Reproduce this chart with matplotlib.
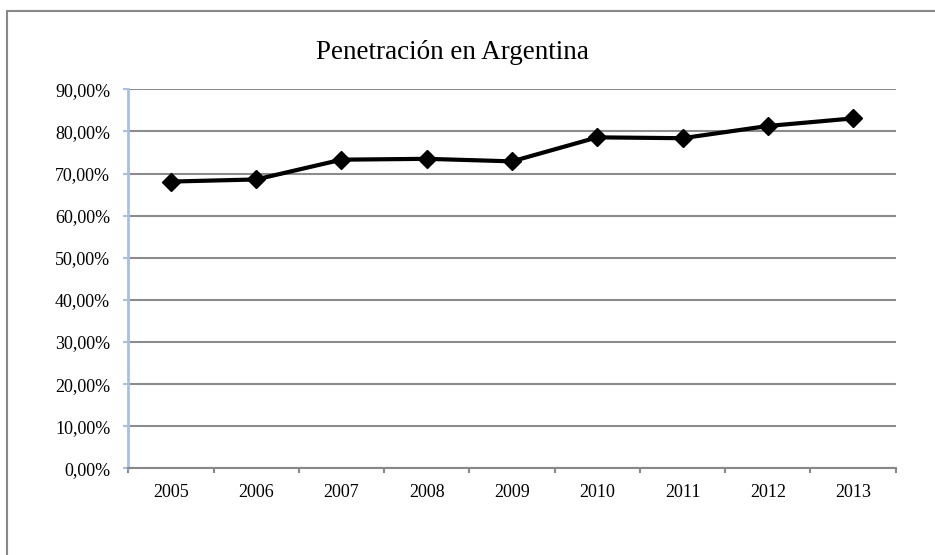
import matplotlib
matplotlib.use('Agg')
from matplotlib import pyplot as plt
from matplotlib.patches import Rectangle
from matplotlib.ticker import FixedLocator, FuncFormatter
import numpy as np

# penetración por año (%)
years = ['2005', '2006', '2007', '2008', '2009', '2010', '2011', '2012', '2013']
penetracion = [68.1, 68.6, 73.3, 73.5, 72.9, 78.6, 78.4, 81.3, 83.1]
y_ticks = [0, 10, 20, 30, 40, 50, 60, 70, 80, 90]

plt.rcParams['font.family'] = ['Liberation Serif', 'DejaVu Serif']

fig = plt.figure(figsize=(9.35, 5.55), dpi=100)
ax = fig.add_axes([0.1372, 0.1562, 0.8208, 0.6828])

# marco gris del gráfico
fig.patches.append(Rectangle((6.5 / 935, -0.1), 1.2, 1 + 0.1 - 10.5 / 555,
                             transform=fig.transFigure, fill=False,
                             edgecolor='#888888', linewidth=1.5, clip_on=False))

x = np.arange(len(years))
ax.plot(x, penetracion, color='black', linewidth=3, marker='D',
        markersize=9.5, markerfacecolor='black', markeredgecolor='black',
        zorder=5, solid_joinstyle='miter')

ax.set_ylim(0, 90)
ax.set_xlim(-0.5, len(years) - 0.5)
ax.set_yticks(y_ticks)
ax.yaxis.set_major_formatter(
    FuncFormatter(lambda v, p: ('%.2f%%' % v).replace('.', ',')))
ax.grid(axis='y', color='#8c8c8c', linewidth=1.5)
ax.set_axisbelow(True)

# ticks en los bordes de cada categoría, etiquetas al centro
ax.xaxis.set_major_locator(FixedLocator(np.arange(-0.5, len(years), 1.0)))
ax.xaxis.set_major_formatter(FuncFormatter(lambda v, p: ''))
ax.xaxis.set_minor_locator(FixedLocator(x))
ax.set_xticklabels(years, minor=True)
ax.tick_params(axis='x', which='major', length=3.6, width=1.5, color='#888888')
ax.tick_params(axis='x', which='minor', length=0, pad=11, labelsize=13)
ax.tick_params(axis='y', length=3.6, width=1.5, color='#a9bfe4', pad=9.4,
               labelsize=13)

for s in ['top', 'right']:
    ax.spines[s].set_visible(False)
ax.spines['bottom'].set_color('#888888')
ax.spines['bottom'].set_linewidth(1.5)
ax.spines['left'].set_color('#a9bfe4')
ax.spines['left'].set_linewidth(2)

fig.text(0.484, 0.905, 'Penetración en Argentina', ha='center', va='center',
         fontsize=19.5)

fig.savefig('out.png', dpi=100)
